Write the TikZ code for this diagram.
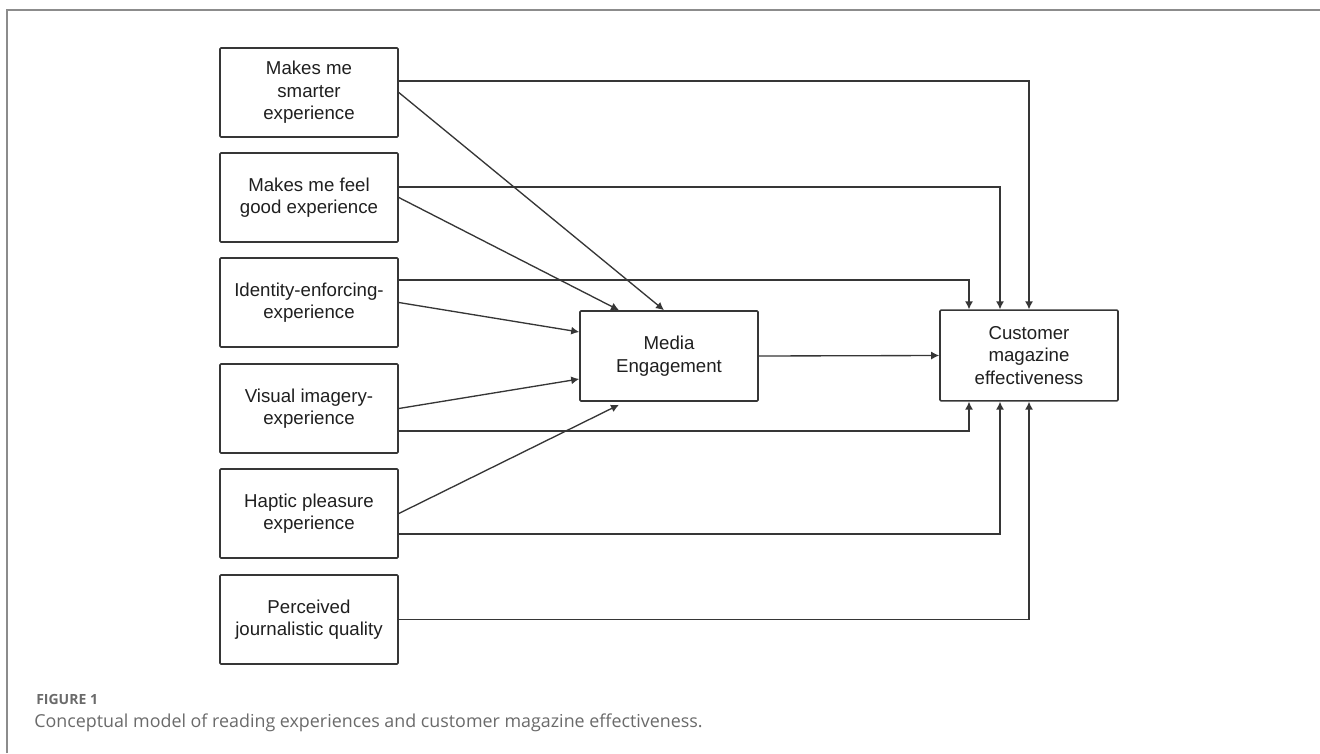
\documentclass[tikz,border=0pt]{standalone}
\usepackage{fontspec}
\setmainfont{Liberation Sans}
\newfontfamily\capfont{Open Sans}
\usetikzlibrary{calc,arrows.meta}
\definecolor{linegray}{HTML}{363636}
\definecolor{framegray}{HTML}{8C8C8C}
\definecolor{capgray}{HTML}{6A6A6A}
\begin{document}
\begin{tikzpicture}[x=0.75pt,y=-0.75pt,
	box/.style={draw=linegray,line width=1.2pt,rounded corners=0.8pt,minimum width=133.5pt,minimum height=66.75pt,inner sep=0pt,align=center,text=black!88,font=\fontsize{14}{16.9}\selectfont},
	link/.style={draw=linegray,line width=1pt,-{Latex[length=6pt,width=6pt]}}]
			          %page frame, pixel coordinates
			          \useasboundingbox (0,0) rectangle (1320,753);
			          \coordinate (F1) at (7,753);
			          \coordinate (F2) at (7,10);
			          \coordinate (F3) at (1320,10);
			          \draw[framegray,line width=1.5pt] (F1) -- (F2) -- (F3);
			          
			          %experiences
			          \node[box] (smart) at (309,92.5) {Makes me\\smarter\\experience};
			          \node[box] (feel) at (309,197.5) {Makes me feel\\good experience};
			          \node[box] (ident) at (309,302.5) {Identity-enforcing-\\experience};
			          \node[box] (visual) at (309,408.5) {Visual imagery-\\experience};
			          \node[box] (haptic) at (309,513.5) {Haptic pleasure\\experience};
			          \node[box] (percv) at (309,619.5) {Perceived\\journalistic quality};
			          \node[box,minimum height=67.5pt] (me) at (669,356) {Media\\Engagement};
			          \node[box,minimum height=68pt] (cme) at (1029,355.5) {Customer\\magazine\\effectiveness};
			          
			          %direct paths
			          \draw[link] ($(smart.east)+(0,-11.5)$) -| (cme.north);
			          \draw[link] ($(feel.east)+(0,-10.5)$) -| ($(cme.north)+(-29,0)$);
			          \draw[link] ($(ident.east)+(0,-22.5)$) -| ($(cme.north)+(-60,0)$);
			          \draw[link] ($(visual.east)+(0,22.5)$) -| ($(cme.south)+(-60,0)$);
			          \draw[link] ($(haptic.east)+(0,20.5)$) -| ($(cme.south)+(-29,0)$);
			          \draw[link] (percv.east) -| (cme.south);
			          
			          %paths through engagement
			          \draw[link] (smart.east) -- ($(me.north)+(-5,0)$);
			          \draw[link] (feel.east) -- ($(me.north)+(-50,0)$);
			          \draw[link] (ident.east) -- ($(me.west)+(0,-24)$);
			          \draw[link] (visual.east) -- ($(me.west)+(0,23)$);
			          \draw[link] (haptic.east) -- ($(me.south)+(-50,3)$);
			          \draw[link] (me.east) -- (cme.west);
			          
			          %caption
			          \node[anchor=base west,inner sep=0pt,text=capgray,font=\capfont\bfseries\fontsize{10.5}{12}\selectfont] (figno) at (36,704) {FIGURE 1};
			          \node[anchor=base west,inner sep=0pt,text=capgray,font=\capfont\fontsize{13.4}{15}\selectfont] (figcap) at (34,727) {Conceptual model of reading experiences and customer magazine effectiveness.};
				  \end{tikzpicture}
\end{document}
